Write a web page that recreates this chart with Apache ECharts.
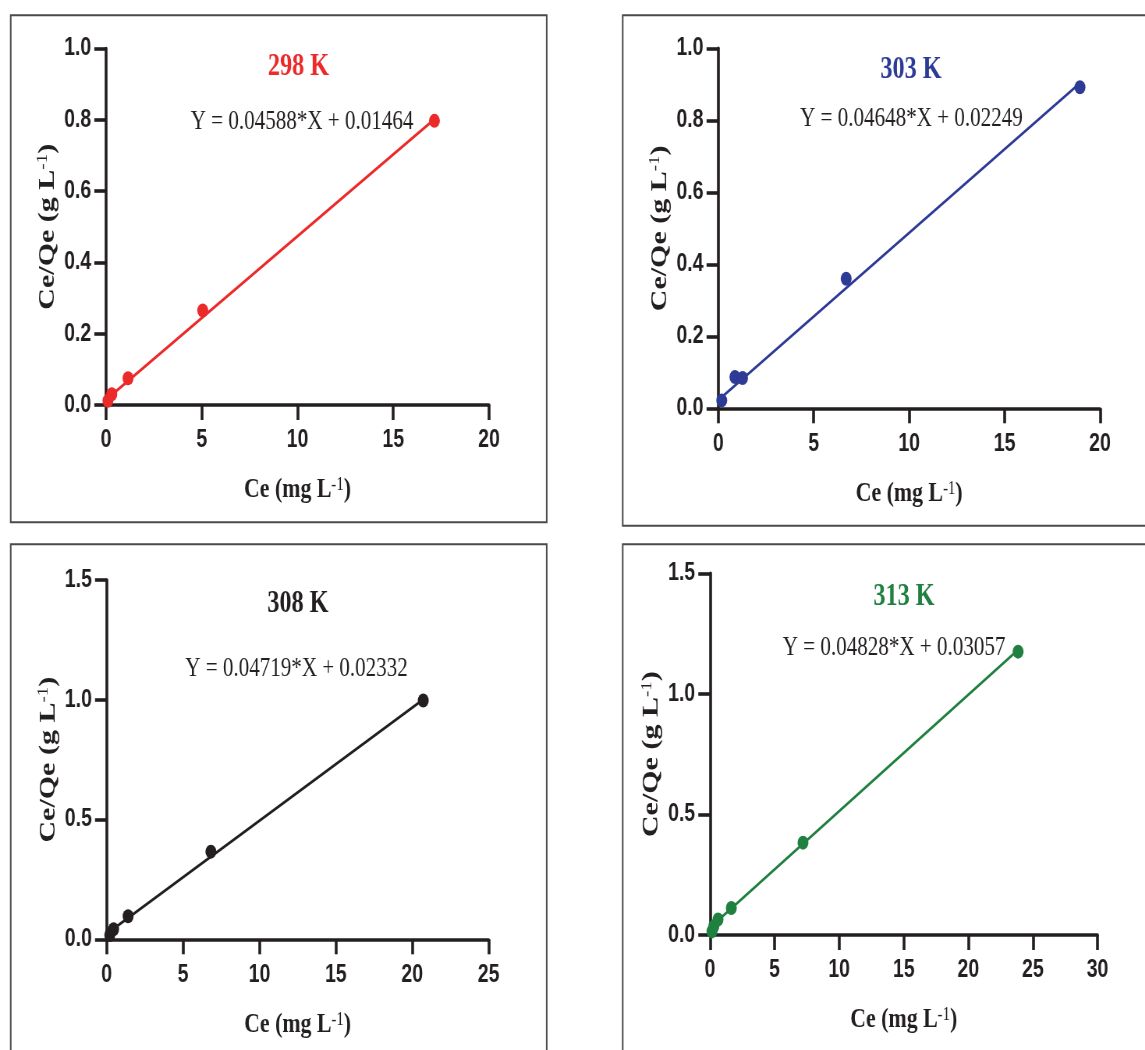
<!DOCTYPE html>
<html>
<head>
<meta charset="utf-8">
<script src="https://cdn.jsdelivr.net/npm/echarts@6/dist/echarts.min.js"></script>
<style>
  html, body { margin: 0; padding: 0; background: #fff; overflow: hidden; }
  /* the source figure is squeezed sideways, so draw wide and squeeze it back */
  #wrap { width: 1468px; height: 1050px; transform: scaleX(0.78); transform-origin: 0 0; }
  #main { width: 1468px; height: 1050px; }
</style>
</head>
<body>
<div id="wrap"><div id="main"></div></div>
<script>
// 温度 / 颜色
const temps = ['298 K', '303 K', '308 K', '313 K']
const colors = ['#ec2a2a', '#2e3b96', '#231f20', '#1f8040']

// Ce (mg L-1) 与 Ce/Qe (g L-1)
const ce298 = [0.1, 0.3, 1.15, 5.05, 17.15]
const q298 = [0.012, 0.03, 0.075, 0.265, 0.797]
const ce303 = [0.18, 0.87, 1.27, 6.7, 18.95]
const q303 = [0.022, 0.087, 0.084, 0.36, 0.892]
const ce308 = [0.2, 0.45, 1.4, 6.82, 20.72]
const q308 = [0.018, 0.042, 0.096, 0.366, 0.997]
const ce313 = [0.15, 0.3, 0.62, 1.65, 7.2, 23.85]
const q313 = [0.015, 0.036, 0.064, 0.112, 0.383, 1.175]

// 线性拟合
const slopes = [0.04588, 0.04648, 0.04719, 0.04828]
const intercepts = [0.01464, 0.02249, 0.02332, 0.03057]
const equations = [
  'Y = 0.04588*X + 0.01464',
  'Y = 0.04648*X + 0.02249',
  'Y = 0.04719*X + 0.02332',
  'Y = 0.04828*X + 0.03057',
]

// 坐标轴
const xMax = [20, 20, 25, 30]
const xStep = [5, 5, 5, 5]
const yMax = [1.0, 1.0, 1.5, 1.5]
const yStep = [0.2, 0.2, 0.5, 0.5]

const ceList = [ce298, ce303, ce308, ce313]
const qList = [q298, q303, q308, q313]

const SX = 0.78
const px = (x) => x / SX
const ink = '#231f20'

// 每个小图的位置 (屏幕像素, x 未缩放)
const panels = [
  { axis: [106, 489, 48.5, 405], box: [10.7, 15.3, 546.7, 522.3], title: [298.5, 67], eq: [302, 121.5] },
  { axis: [718.3, 1100, 48.3, 408.3], box: [622.7, 15.3, 1200, 525.7], title: [911, 70], eq: [911.5, 118.5] },
  { axis: [106.7, 488.6, 580, 939.3], box: [10.7, 544.3, 546.7, 1100], title: [298, 604], eq: [296.5, 668.5] },
  { axis: [710, 1097.5, 573.3, 935], box: [622.7, 544.3, 1200, 1100], title: [904, 597], eq: [894, 648] },
]

const serif = "'Liberation Serif', 'Times New Roman', serif"
const sans = "'Liberation Sans', Arial, sans-serif"

const nameRich = {
  t: { fontFamily: serif, fontWeight: 'bold', fontSize: 28, color: ink },
  s: { fontFamily: serif, fontWeight: 'normal', fontSize: 19, color: ink, verticalAlign: 'top' },
}

const genAxisBase = () => ({
  type: 'value',
  splitLine: { show: false },
  axisLine: { show: true, onZero: false, lineStyle: { color: ink, width: 3.6 } },
  axisTick: { show: true, inside: false, length: 15, lineStyle: { color: ink, width: 3.6 } },
  axisLabel: {
    showMinLabel: true,
    showMaxLabel: true,
    color: ink,
    fontFamily: sans,
    fontWeight: 'bold',
    fontSize: 25,
  },
})

const grids = []
const xAxes = []
const yAxes = []
const series = []
const graphics = []

panels.forEach((p, i) => {
  const [x0, x1, yTop, yBot] = p.axis
  grids.push({ left: px(x0), top: yTop, width: px(x1 - x0), height: yBot - yTop })

  const xBase = genAxisBase()
  xAxes.push({
    ...xBase,
    gridIndex: i,
    min: 0,
    max: xMax[i],
    interval: xStep[i],
    axisLabel: { ...xBase.axisLabel, margin: 23 },
    name: '{t|Ce (mg L}{s|-1}{t|)}',
    nameLocation: 'middle',
    nameGap: 71,
    nameTextStyle: { rich: nameRich },
  })

  const yBase = genAxisBase()
  yAxes.push({
    ...yBase,
    gridIndex: i,
    min: 0,
    max: yMax[i],
    interval: yStep[i],
    axisLabel: { ...yBase.axisLabel, margin: 19, formatter: (v) => v.toFixed(1) },
    name: '{t|Ce/Qe (g L}{s|-1}{t|)}',
    nameLocation: 'middle',
    nameRotate: 90,
    nameGap: 60,
    nameTextStyle: { rich: { ...nameRich, t: { ...nameRich.t, fontSize: 30 } } },
  })

  const ce = ceList[i]
  const q = qList[i]
  const xEnd = Math.max(...ce)

  // 拟合直线
  series.push({
    type: 'line',
    xAxisIndex: i,
    yAxisIndex: i,
    symbol: 'none',
    silent: true,
    z: 2,
    lineStyle: { color: colors[i], width: 2.8 },
    data: [
      [0, intercepts[i]],
      [xEnd, slopes[i] * xEnd + intercepts[i]],
    ],
  })

  // 实验点
  series.push({
    type: 'scatter',
    xAxisIndex: i,
    yAxisIndex: i,
    symbol: 'circle',
    symbolSize: 14,
    z: 3,
    itemStyle: { color: colors[i], opacity: 1 },
    data: ce.map((c, k) => [c, q[k]]),
  })

  const [bx0, by0, bx1, by1] = p.box
  graphics.push({
    type: 'rect',
    silent: true,
    shape: { x: px(bx0), y: by0, width: px(bx1 - bx0), height: by1 - by0 },
    style: { fill: 'none', stroke: '#4a4a4a', lineWidth: 2 },
  })
  graphics.push({
    type: 'text',
    x: px(p.title[0]),
    y: p.title[1],
    style: {
      text: temps[i],
      fontFamily: serif,
      fontWeight: 'bold',
      fontSize: 31,
      fill: colors[i],
      textAlign: 'center',
      textVerticalAlign: 'middle',
    },
  })
  graphics.push({
    type: 'text',
    x: px(p.eq[0]),
    y: p.eq[1],
    style: {
      text: equations[i],
      fontFamily: serif,
      fontSize: 27,
      fill: ink,
      textAlign: 'center',
      textVerticalAlign: 'middle',
    },
  })
})

const chart = echarts.init(document.getElementById('main'))
chart.setOption({
  backgroundColor: '#fff',
  animation: false,
  grid: grids,
  xAxis: xAxes,
  yAxis: yAxes,
  series,
  graphic: graphics,
})
</script>
</body>
</html>
